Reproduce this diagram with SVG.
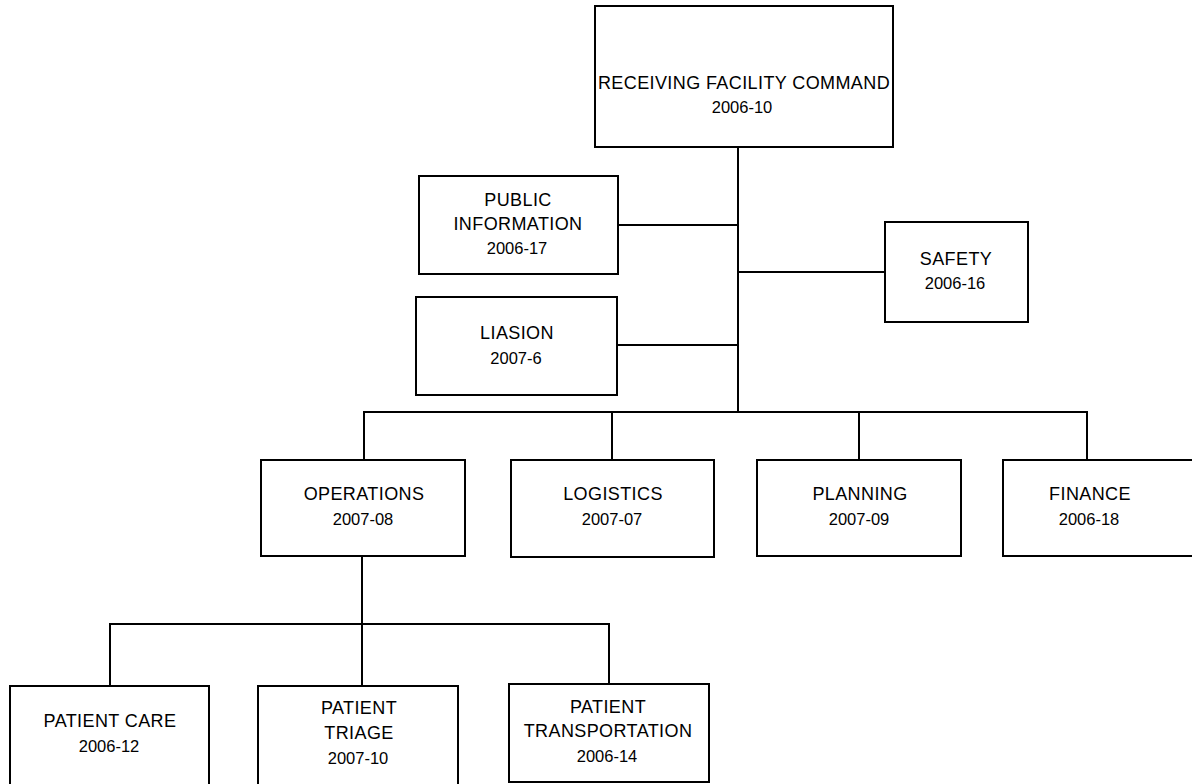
<svg xmlns="http://www.w3.org/2000/svg" width="1192" height="784" viewBox="0 0 1192 784">
<style>
.box{fill:#fff;stroke:#000;stroke-width:2}
.ln{fill:none;stroke:#000;stroke-width:2}
.t{font-family:"Liberation Sans",Arial,sans-serif;font-size:18px;letter-spacing:0.4px;fill:#000;text-anchor:middle}
.d{font-family:"Liberation Sans",Arial,sans-serif;font-size:16.5px;fill:#000;text-anchor:middle}
</style>
<rect width="1192" height="784" fill="#fff"/>
<g id="connectors">
<path class="ln" d="M738 147 V412"/>
<path class="ln" d="M618 225 H738"/>
<path class="ln" d="M738 272 H885"/>
<path class="ln" d="M617 345 H738"/>
<path class="ln" d="M364 460 V412 H1087 V460"/>
<path class="ln" d="M612 412 V460"/>
<path class="ln" d="M859 412 V460"/>
<path class="ln" d="M362 556 V686"/>
<path class="ln" d="M110 686 V624 H609 V684"/>
</g>
<g id="command">
<rect class="box" x="595" y="6" width="298" height="141"/>
<text class="t" x="744" y="89">RECEIVING FACILITY COMMAND</text>
<text class="d" x="742" y="113">2006-10</text>
</g>
<g id="public-information">
<rect class="box" x="419" y="176" width="199" height="98"/>
<text class="t" x="518" y="206">PUBLIC</text>
<text class="t" x="518" y="230">INFORMATION</text>
<text class="d" x="517" y="254">2006-17</text>
</g>
<g id="safety">
<rect class="box" x="885" y="222" width="143" height="100"/>
<text class="t" x="956" y="265">SAFETY</text>
<text class="d" x="955" y="289">2006-16</text>
</g>
<g id="liaison">
<rect class="box" x="416" y="297" width="201" height="98"/>
<text class="t" x="517" y="339">LIASION</text>
<text class="d" x="516" y="364">2007-6</text>
</g>
<g id="operations">
<rect class="box" x="261" y="460" width="204" height="96"/>
<text class="t" x="364" y="500">OPERATIONS</text>
<text class="d" x="363" y="525">2007-08</text>
</g>
<g id="logistics">
<rect class="box" x="511" y="460" width="203" height="97"/>
<text class="t" x="613" y="500">LOGISTICS</text>
<text class="d" x="612" y="525">2007-07</text>
</g>
<g id="planning">
<rect class="box" x="757" y="460" width="204" height="96"/>
<text class="t" x="860" y="500">PLANNING</text>
<text class="d" x="859" y="525">2007-09</text>
</g>
<g id="finance">
<rect class="box" x="1003" y="460" width="192" height="96"/>
<text class="t" x="1090" y="500">FINANCE</text>
<text class="d" x="1089" y="525">2006-18</text>
</g>
<g id="patient-care">
<rect class="box" x="10" y="686" width="199" height="100"/>
<text class="t" x="110" y="727">PATIENT CARE</text>
<text class="d" x="109" y="752">2006-12</text>
</g>
<g id="patient-triage">
<rect class="box" x="258" y="686" width="200" height="100"/>
<text class="t" x="359" y="714">PATIENT</text>
<text class="t" x="359" y="739">TRIAGE</text>
<text class="d" x="358" y="764">2007-10</text>
</g>
<g id="patient-transportation">
<rect class="box" x="509" y="684" width="200" height="98"/>
<text class="t" x="608" y="713">PATIENT</text>
<text class="t" x="608" y="737">TRANSPORTATION</text>
<text class="d" x="607" y="762">2006-14</text>
</g>
</svg>
